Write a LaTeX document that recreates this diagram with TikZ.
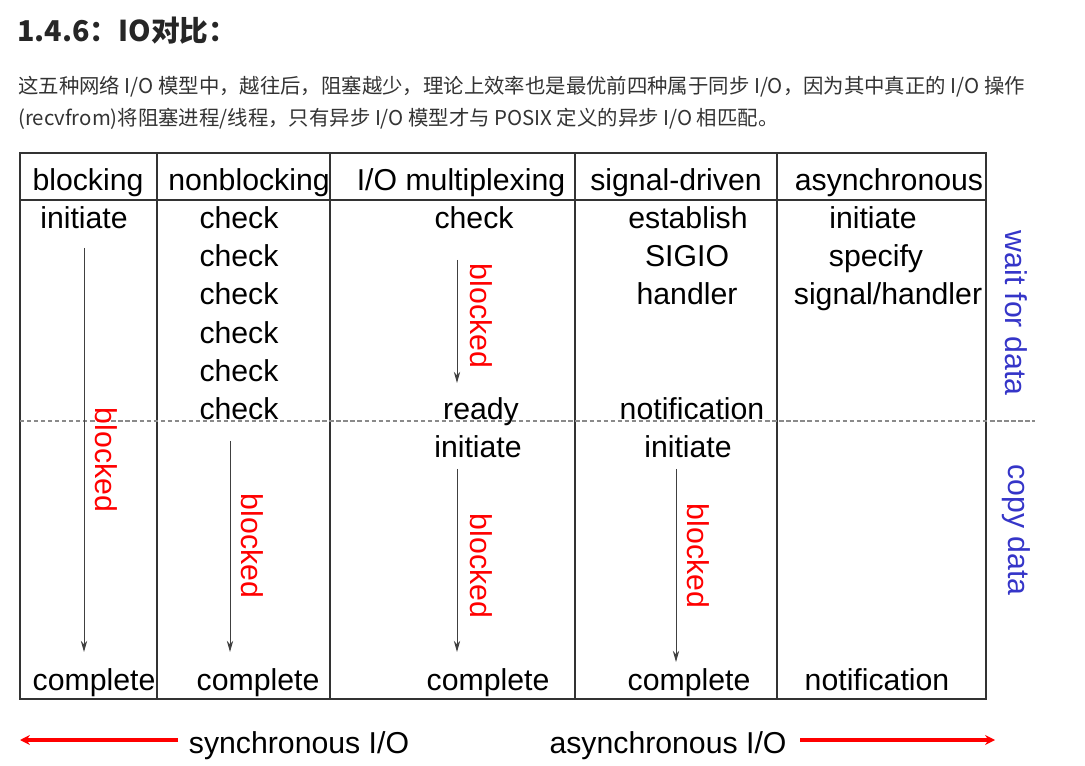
\documentclass[tikz,border=0pt]{standalone}
\usepackage{fontspec}
\setsansfont{Liberation Sans}
\newfontfamily\cjk{Noto Sans CJK SC}
\usetikzlibrary{arrows.meta,positioning}
\definecolor{gridc}{HTML}{333333}
\definecolor{dashc}{HTML}{8A8A8A}
\definecolor{sideblue}{HTML}{3535C8}
\definecolor{bodyc}{HTML}{333333}
\tikzset{pin/.style={-{Stealth[length=8pt,width=4.5pt]}, line width=0.6pt, draw=black!75},
  bigpin/.style={-{Stealth[length=7pt,width=7pt]}, line width=2.4pt, draw=red},
  cell/.style={anchor=base, inner sep=0pt, font=\sffamily\fontsize{21.5}{24}\selectfont},
  blkd/.style={rotate=-90, inner sep=0pt, text=red, font=\sffamily\fontsize{21.5}{24}\selectfont},
  side/.style={rotate=-90, inner sep=0pt, text=sideblue, font=\sffamily\fontsize{21.5}{24}\selectfont}}

\begin{document}
\begin{tikzpicture}[x=0.025cm, y=-0.025cm]
  \useasboundingbox (0,0) rectangle (1085,766);
  % heading and text
  \node[anchor=base west, inner sep=0pt, text=black!85, font=\cjk\bfseries\fontsize{20.4}{24}\selectfont] (title) at (17,42) {1.4.6：IO对比：};
  \node[anchor=base west, inner sep=0pt, text=bodyc, font=\cjk\fontsize{14.5}{17}\selectfont] (para1) at (18,94) {这五种网络 I/O 模型中，越往后，阻塞越少，理论上效率也是最优前四种属于同步 I/O，因为其中真正的 I/O 操作};
  \node[anchor=base west, inner sep=0pt, text=bodyc, font=\cjk\fontsize{14.5}{17}\selectfont] (para2) at (18,126) {(recvfrom)将阻塞进程/线程，只有异步 I/O 模型才与 POSIX 定义的异步 I/O 相匹配。};
  % table
  \draw[gridc, line width=0.9pt] (20,153) rectangle (986,699);
  \draw[gridc, line width=0.9pt] (20,200) -- (986,200);
  \foreach \x in {157,330,575,777}
    \draw[gridc, line width=0.9pt] (\x,153) -- (\x,699);
  \draw[dashc, line width=0.9pt, dash pattern=on 3pt off 2pt] (20,421) -- (1035,421);
  % headers
  \node[cell] (h1) at (88,191) {blocking};
  \node[cell] (h2) at (249,191) {nonblocking};
  \node[cell] (h3) at (461,191) {I/O multiplexing};
  \node[cell] (h4) at (676,191) {signal-driven};
  \node[cell] (h5) at (889,191) {asynchronous};
  % blocking
  \node[cell] (b1) at (84,229) {initiate};
  \node[cell] (b2) at (94,690) {complete};
  \coordinate (b-top) at (84,248);
  \coordinate (b-bot) at (84,652);
  \draw[pin] (b-top) -- (b-bot);
  \node[blkd] (b-blk) at (106,460) {blocked};
  % nonblocking
  \foreach \i/\y in {1/229,2/267,3/305,4/344,5/382,6/420}
    \node[cell] (n\i) at (239,\y) {check};
  \node[cell] (n7) at (258,690) {complete};
  \coordinate (n-top) at (230,441);
  \coordinate (n-bot) at (230,652);
  \draw[pin] (n-top) -- (n-bot);
  \node[blkd] (n-blk) at (252,546) {blocked};
  % multiplexing
  \node[cell] (m1) at (474,229) {check};
  \node[cell] (m2) at (481,420) {ready};
  \node[cell] (m3) at (478,458) {initiate};
  \node[cell] (m4) at (488,690) {complete};
  \coordinate (m-top) at (457,260);
  \coordinate (m-mid) at (457,383);
  \draw[pin] (m-top) -- (m-mid);
  \node[blkd] (m-blk1) at (481,316) {blocked};
  \coordinate (m-top2) at (457,469);
  \coordinate (m-bot) at (457,652);
  \draw[pin] (m-top2) -- (m-bot);
  \node[blkd] (m-blk2) at (481,566) {blocked};
  % signal-driven
  \node[cell] (s1) at (688,229) {establish};
  \node[cell] (s2) at (687,267) {SIGIO};
  \node[cell] (s3) at (687,305) {handler};
  \node[cell] (s4) at (692,420) {notification};
  \node[cell] (s5) at (688,458) {initiate};
  \node[cell] (s6) at (689,690) {complete};
  \coordinate (s-top) at (676,469);
  \coordinate (s-bot) at (676,662);
  \draw[pin] (s-top) -- (s-bot);
  \node[blkd] (s-blk) at (698,556) {blocked};
  % asynchronous
  \node[cell] (a1) at (873,229) {initiate};
  \node[cell] (a2) at (876,267) {specify};
  \node[cell] (a3) at (888,305) {signal/handler};
  \node[cell] (a4) at (877,690) {notification};
  % phases
  \node[side] (wait) at (1016,313) {wait for data};
  \node[side] (copy) at (1016,530) {copy data};
  % sync / async
  \node[cell] (sync) at (299,753) {synchronous I/O};
  \node[cell] (async) at (668,753) {asynchronous I/O};
  \coordinate (sync-end) at (20,740);
  \coordinate (async-end) at (995,740);
  \draw[bigpin] (178,740) -- (sync-end);
  \draw[bigpin] (800,740) -- (async-end);
\end{tikzpicture}
\end{document}
